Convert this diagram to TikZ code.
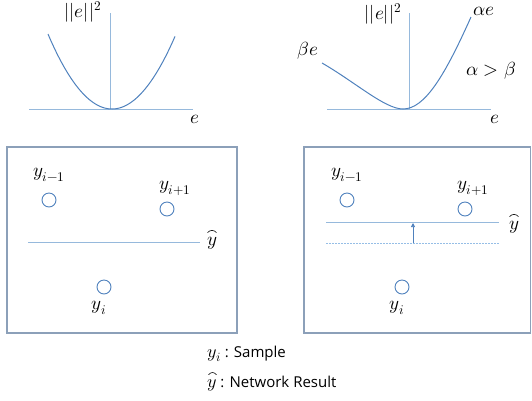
\documentclass[tikz,border=0pt]{standalone}
\usepackage{fontspec}
\usepackage{unicode-math}
\setmathfont{Latin Modern Math}
\setsansfont{Open Sans}
\usetikzlibrary{arrows.meta}
\definecolor{curvec}{RGB}{79,129,189}
\definecolor{axisc}{RGB}{150,185,220}
\definecolor{dashc}{RGB}{150,190,230}
\definecolor{boxc}{RGB}{140,160,185}
\newcommand{\bigmath}[1]{{\fontsize{18}{20}\selectfont$#1$}}
\begin{document}
\begin{tikzpicture}[x=1pt,y=-1pt,
  axis/.style={draw=axisc,line width=0.9pt},
  curve/.style={draw=curvec,line width=1pt},
  frame/.style={draw=boxc,line width=1.3pt},
  pt/.style={circle,draw=curvec,line width=0.9pt,minimum size=14pt,inner sep=0pt},
  lbl/.style={font=\fontsize{19}{21}\selectfont,inner sep=1pt},
  hatarc/.style={draw=black,line width=0.6pt},
  leg/.style={font=\fontsize{15}{18}\selectfont\sffamily,anchor=west,inner sep=0pt}]
\useasboundingbox (0,0) rectangle (532,400);
% ---- top left graph
\coordinate (ax1l) at (29,109); \coordinate (ax1r) at (193,109);
\coordinate (ay1b) at (110,109); \coordinate (ay1t) at (110,13);
\draw[axis] (ax1l) -- (ax1r);
\draw[axis] (ay1b) -- (ay1t);
\draw[curve] plot[domain=48:175,samples=60,smooth] ({\x},{109-0.0183*(\x-112)^2});
\node[lbl] (n1) at (83,12) {$||e||^2$};
\node[lbl] (e1) at (195,119) {$e$};
% ---- top right graph
\coordinate (ax2l) at (327,109); \coordinate (ax2r) at (491,109);
\coordinate (ay2b) at (409,109); \coordinate (ay2t) at (409,13);
\draw[axis] (ax2l) -- (ax2r);
\draw[axis] (ay2b) -- (ay2t);
\coordinate (c0) at (322,63); \coordinate (cm) at (403,109); \coordinate (c1) at (471,17);
\draw[curve] (c0) .. controls (355,82) and (385,109) .. (cm) .. controls (425,109) and (445,75) .. (c1);
\node[lbl] (n2) at (383,14) {$||e||^2$};
\node[lbl] (ae) at (484,11) {$\alpha e$};
\node[lbl] (be) at (308,51) {$\beta e$};
\node[lbl] (ab) at (491,71) {$\alpha > \beta$};
\node[lbl] (e2) at (495,119) {$e$};
% ---- bottom left box
\draw[frame] (7,147) rectangle (237,333);
\node[pt] (p1) at (49,200) {};
\node[pt] (p2) at (167,209) {};
\node[pt] (p3) at (104,287) {};
\node[lbl] at (49,175) {$y_{i-1}$};
\node[lbl] at (175,188) {$y_{i+1}$};
\node[lbl] at (99,308) {$y_i$};
\coordinate (l1a) at (28,242); \coordinate (l1b) at (200,242);
\draw[axis] (l1a) -- (l1b);
\node[lbl] (h1) at (212,243) {$y$};
\draw[hatarc] ([xshift=-4.5pt,yshift=3pt]h1.north) .. controls ([xshift=-2pt,yshift=6pt]h1.north) and ([xshift=2pt,yshift=6pt]h1.north) .. ([xshift=4.5pt,yshift=3pt]h1.north);
% ---- bottom right box
\draw[frame] (304,147) rectangle (530.5,333);
\node[pt] (q1) at (347,200) {};
\node[pt] (q2) at (465,209) {};
\node[pt] (q3) at (402,287) {};
\node[lbl] at (347,175) {$y_{i-1}$};
\node[lbl] at (473,188) {$y_{i+1}$};
\node[lbl] at (397,308) {$y_i$};
\coordinate (s1) at (326,222); \coordinate (s2) at (499,222);
\coordinate (d1) at (326,243); \coordinate (d2) at (499,243);
\draw[axis] (s1) -- (s2);
\draw[draw=dashc,line width=0.9pt,dash pattern=on 2pt off 1pt] (d1) -- (d2);
\coordinate (ar0) at (413,243); \coordinate (ar1) at (413,223);
\draw[draw=curvec,line width=0.7pt,-{Triangle[length=4pt,width=4pt]}] (ar0) -- (ar1);
\node[lbl] (h2) at (514,227) {$y$};
\draw[hatarc] ([xshift=-4.5pt,yshift=3pt]h2.north) .. controls ([xshift=-2pt,yshift=6pt]h2.north) and ([xshift=2pt,yshift=6pt]h2.north) .. ([xshift=4.5pt,yshift=3pt]h2.north);
% ---- legend
\node[leg] (lg1) at (207,354) {\bigmath{y_i} : Sample};
\node[leg] (lg2) at (207,384) {\bigmath{y} : Network Result};
\draw[hatarc] ([xshift=1.5pt,yshift=1.5pt]lg2.north west) .. controls ([xshift=4pt,yshift=4.5pt]lg2.north west) and ([xshift=7pt,yshift=4.5pt]lg2.north west) .. ([xshift=9.5pt,yshift=1.5pt]lg2.north west);
\end{tikzpicture}
\end{document}
